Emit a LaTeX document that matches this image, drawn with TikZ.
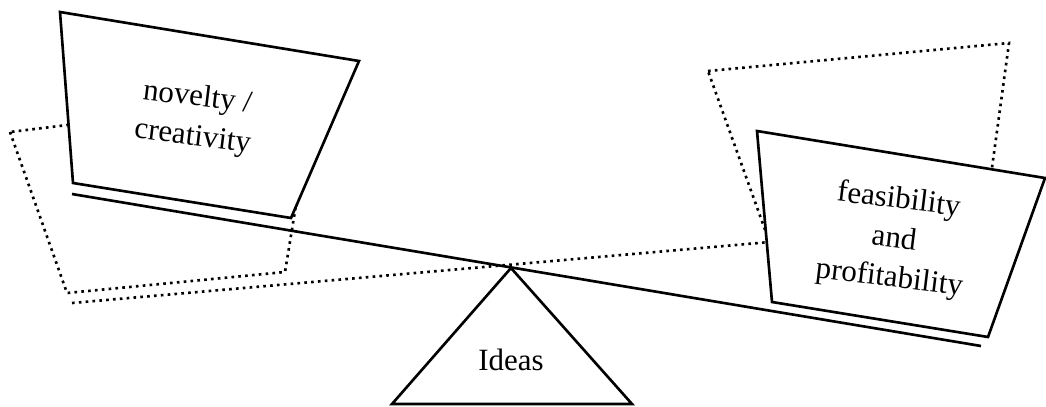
\documentclass[tikz,border=0pt]{standalone}
\usepackage{fontspec}
\setmainfont{Liberation Serif}
\usepackage{tikz}
\usetikzlibrary{positioning}

\begin{document}
\begin{tikzpicture}[x=0.01cm, y=-0.01cm,%
		boxline/.style={line width=0.75pt, fill=white},%
		beamline/.style={line width=0.75pt},%
		dotline/.style={line width=0.75pt, dash pattern=on 0.75pt off 1.2pt},%
		pan text/.style={font=\fontsize{8.8}{11.2}\selectfont, align=center, rotate=-7},%
		]
	\useasboundingbox (0,0) rectangle (1046,406);
	% fulcrum and beams
	\coordinate (pivot) at (511,268);
	\coordinate (beamL) at (72,194);
	\coordinate (beamR) at (981,346);
	\coordinate (tiltL) at (72,303);
	\coordinate (tiltR) at (770,242);
	% tilted the other way (dotted)
	\draw[dotline] (10,132) -- (67,293) -- (285,272) -- (314,95) -- cycle;
	\draw[dotline] (708,71) -- (1009,43) -- (985,219) -- (768,238) -- cycle;
	\draw[dotline] (tiltL) -- (tiltR);
	% actual balance
	\draw[beamline] (beamL) -- (beamR);
	\draw[beamline] (pivot) -- (392,404) -- (632,404) -- cycle;
	\node[font=\fontsize{8.8}{10.5}\selectfont] (ideas) at (511,360) {Ideas};
	\draw[boxline] (60,12) -- (359,61) -- (291,218) -- (73,183) -- cycle;
	\draw[boxline] (757,131) -- (1045,178) -- (988,337) -- (772,302) -- cycle;
	\node[pan text] (novelty) at (195,118) {novelty /\\creativity};
	\node[pan text] (feasible) at (894,240) {feasibility\\and\\profitability};
\end{tikzpicture}
\end{document}
